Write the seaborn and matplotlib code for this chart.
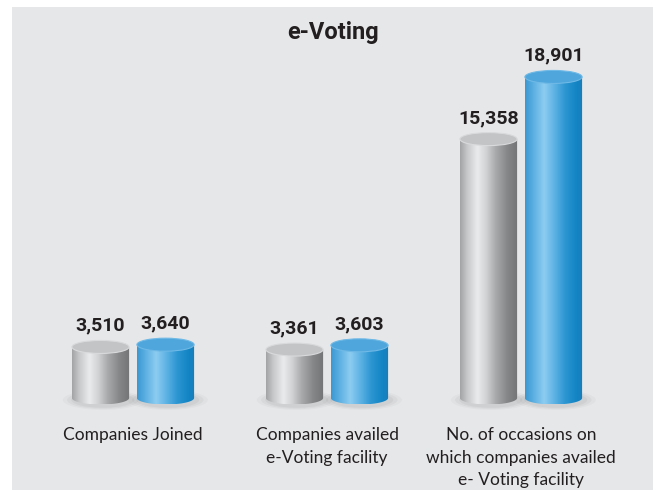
import numpy as np
import pandas as pd
import matplotlib
matplotlib.use('Agg')
import matplotlib.pyplot as plt
import seaborn as sns
from matplotlib.patches import Ellipse, Rectangle, PathPatch
from matplotlib.path import Path
from matplotlib.colors import LinearSegmentedColormap

# data
categories = ['Companies Joined',
              'Companies availed\ne-Voting facility',
              'No. of occasions on\nwhich companies availed\ne- Voting facility']
series = ['Previous year', 'Current year']
previous_year = [3510, 3361, 15358]
current_year = [3640, 3603, 18901]

df = pd.DataFrame({
    'category': categories * 2,
    'series': [series[0]] * 3 + [series[1]] * 3,
    'value': previous_year + current_year,
})

sns.set_theme(style='white')
plt.rcParams['font.family'] = ['Roboto', 'DejaVu Sans']

# cylinder look
gray_cmap = LinearSegmentedColormap.from_list('gray_cyl', [
    (0.0, '#a2a3a5'), (0.12, '#c6c7c9'), (0.3, '#eaebec'), (0.45, '#d2d3d5'),
    (0.62, '#a8a9ab'), (0.82, '#858688'), (1.0, '#737476')])
blue_cmap = LinearSegmentedColormap.from_list('blue_cyl', [
    (0.0, '#3b98d2'), (0.15, '#5cb0e2'), (0.33, '#8dcdf0'), (0.5, '#5fb4e4'),
    (0.7, '#2b95d1'), (0.9, '#1284c4'), (1.0, '#1b7db6')])
cmaps = [gray_cmap, blue_cmap]
top_colors = ['#c3c4c6', '#4ea6dc']
top_edges = ['#d9dadb', '#6fb9e6']

axis_floor = 600          # cylinders stand on this value (like the original)
units_per_px = 57.0

fig = plt.figure(figsize=(6.53, 4.94), dpi=100)
fig.patch.set_facecolor('white')
fig.patches.append(Rectangle((12 / 653, 4 / 494), 1 - 12 / 653, 483 / 494,
                             transform=fig.transFigure, facecolor='#e6e7e9',
                             edgecolor='none', zorder=-5))

ax = fig.add_axes([36 / 653, (494 - 420) / 494, 582 / 653, 413 / 494])
ax.set_facecolor('none')

sns.barplot(data=df, x='category', y='value', hue='series',
            palette=['#a9aaac', '#3a9fd9'], width=0.67, gap=0.12,
            errorbar=None, legend=False, ax=ax)

ylo = axis_floor - 22 * units_per_px
yhi = axis_floor + 391 * units_per_px
ry = 6.5 * units_per_px

for k, cont in enumerate(ax.containers):
    for bar in cont:
        bar.set_visible(False)
        x0 = bar.get_x()
        w = bar.get_width()
        cx = x0 + w / 2
        top = bar.get_y() + bar.get_height()
        base = max(bar.get_y(), axis_floor)

        # soft shadow on the floor
        for s, a in [(1.4, 0.025), (1.25, 0.03), (1.1, 0.04)]:
            ax.add_patch(Ellipse((cx + w * 0.04, base - ry * 0.3), w * s, ry * 2.2 * s,
                                 facecolor='black', alpha=a, edgecolor='none', zorder=1))

        # body outline: sides + bottom half ellipse
        th = np.linspace(np.pi, 2 * np.pi, 60)
        verts = [(x0, top), (x0, base)]
        verts += list(zip(cx + w / 2 * np.cos(th), base + ry * np.sin(th)))
        verts += [(x0 + w, top), (x0, top)]
        codes = [Path.MOVETO] + [Path.LINETO] * (len(verts) - 2) + [Path.CLOSEPOLY]
        body = PathPatch(Path(verts, codes), facecolor='none', edgecolor='none')
        ax.add_patch(body)

        grad = np.linspace(0, 1, 256).reshape(1, -1)
        im = ax.imshow(grad, cmap=cmaps[k], extent=(x0, x0 + w, base - ry, top),
                       aspect='auto', zorder=2, interpolation='bilinear')
        im.set_clip_path(body)

        # top cap
        ax.add_patch(Ellipse((cx, top), w, 2 * ry, facecolor=top_colors[k],
                             edgecolor=top_edges[k], linewidth=0.8, zorder=3))

        ax.annotate(f'{int(bar.get_height()):,}', (cx, top + ry),
                    xytext=(0, 4), textcoords='offset points',
                    ha='center', va='bottom', fontsize=14, fontweight='bold',
                    color='#231f20', zorder=4)

ax.set_xlim(-0.5, 2.5)
ax.set_ylim(ylo, yhi)
ax.set_xlabel('')
ax.set_ylabel('')
ax.set_yticks([])
sns.despine(ax=ax, left=True, bottom=True)
ax.tick_params(axis='x', length=0, pad=5)
for lab in ax.get_xticklabels():
    lab.set_fontfamily(['Lato', 'DejaVu Sans'])
    lab.set_fontsize(12.5)
    lab.set_color('#231f20')
    lab.set_linespacing(1.52)

fig.text(0.51, 1 - 33 / 494, 'e-Voting', ha='center', va='center',
         fontsize=17, fontweight='bold', color='#231f20')

fig.savefig('out.png', dpi=100)
